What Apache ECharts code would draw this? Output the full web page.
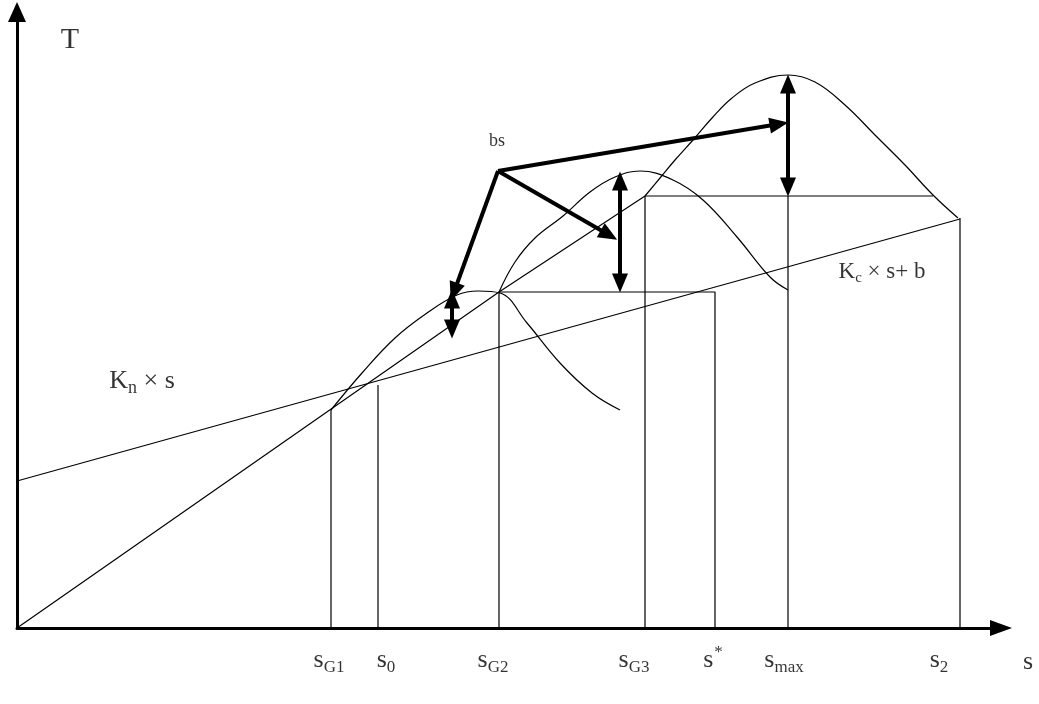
<!DOCTYPE html>
<html>
<head>
<meta charset="utf-8">
<script src="https://cdn.jsdelivr.net/npm/echarts@6/dist/echarts.min.js"></script>
<style>html,body{margin:0;padding:0;background:#fff}#c{width:1039px;height:704px}</style>
</head>
<body>
<div id="c"></div>
<script>
// Data coordinates: s along x, T along y (origin at the lower-left corner of the axes)
const originLine = [[0, 0], [482, 336], [628, 432]];
const knLine = [[0, 147], [943, 409]];
const sG1Line = [[314, 0], [314, 218]];
const s0Line = [[361, 0], [361, 243]];
const sG2Rect = [[482, 0], [482, 336], [698, 336], [698, 0]];
const sG3Rect = [[628, 0], [628, 432], [916, 432]];
const smaxLine = [[771, 0], [771, 432]];
const s2Line = [[943, 0], [943, 410]];
const curve1 = [[314, 218], [345, 255], [378, 290], [410, 315], [440, 333], [461, 337], [483, 335], [510, 305], [543, 265], [575, 235], [603, 218]];
const curve2 = [[482, 336], [498, 366], [518, 390], [546, 412], [573, 436], [598, 451], [623, 457], [656, 448], [686, 428], [720, 391], [753, 351], [771, 338]];
const curve3 = [[628, 432], [643, 450], [658, 468], [676, 488], [695, 510], [715, 530], [738, 545], [771, 553], [798, 546], [828, 523], [858, 493], [888, 463], [916, 433], [941, 410]];
const bsPoint = [481, 457];
const bsTargets = [[437, 336], [592, 393], [762, 504]];
const doubleArrows = [[[435, 299], [435, 329]], [[603, 345], [603, 447]], [[771, 441], [771, 544]]];
const tickNames = ['{s|s}{sub|G1}', '{s|s}{sub|0}', '{s|s}{sub|G2}', '{s|s}{sub|G3}', '{ss|s}{sup|*}', '{s|s}{sub|max}', '{s|s}{sub|2}'];
const tickPos = [312, 369, 476, 617, 696, 767, 922];
const tickY = [-32, -32, -32, -32, -29, -32, -32];
const textItems = [
  {value: [53, 588], text: '{T|T}'},
  {value: [125, 247], text: '{K|K}{n|n}{t| × s}'},
  {value: [865, 356], text: '{K2|K}{c|c}{t2| × s+ b}'},
  {value: [480, 487], text: '{bs|bs}'},
  {value: [1011, -34], text: '{s|s}'}
];

const serif = '"Liberation Serif", "DejaVu Serif", serif';
const thin = {color: '#000', width: 1.2};
function lineSeries(data, smooth) {
  return {type: 'line', data: data, symbol: 'none', smooth: smooth || false,
    lineStyle: thin, silent: true, animation: false, clip: false, z: 2};
}
const rich = {
  s: {fontFamily: serif, fontSize: 26, lineHeight: 26, verticalAlign: 'top', color: '#000'},
  ss: {fontFamily: serif, fontSize: 26, lineHeight: 26, verticalAlign: 'top', color: '#000', padding: [3, 0, 0, 0]},
  sub: {fontFamily: serif, fontSize: 17, lineHeight: 17, verticalAlign: 'top', color: '#000', padding: [12, 0, 0, 0]},
  sup: {fontFamily: serif, fontSize: 17, lineHeight: 17, verticalAlign: 'top', color: '#000', padding: [0, 0, 0, 1]},
  T: {fontFamily: serif, fontSize: 30, lineHeight: 30, color: '#000'},
  K: {fontFamily: serif, fontSize: 26, lineHeight: 26, verticalAlign: 'top', color: '#000'},
  n: {fontFamily: serif, fontSize: 18, lineHeight: 18, verticalAlign: 'top', color: '#000', padding: [11, 0, 0, 0]},
  t: {fontFamily: serif, fontSize: 26, lineHeight: 26, verticalAlign: 'top', color: '#000'},
  K2: {fontFamily: serif, fontSize: 23, lineHeight: 23, verticalAlign: 'top', color: '#000'},
  c: {fontFamily: serif, fontSize: 15, lineHeight: 15, verticalAlign: 'top', color: '#000', padding: [10, 0, 0, 0]},
  t2: {fontFamily: serif, fontSize: 23, lineHeight: 23, verticalAlign: 'top', color: '#000'},
  bs: {fontFamily: serif, fontSize: 18, lineHeight: 18, color: '#000'}
};

const arrowLines = bsTargets.map(t => [{coord: bsPoint, symbol: 'none'}, {coord: t, symbol: 'triangle'}]);
const dblLines = doubleArrows.map(d => [{coord: d[0], symbol: 'triangle'}, {coord: d[1], symbol: 'triangle'}]);

const chart = echarts.init(document.getElementById('c'), null, {renderer: 'canvas'});
chart.setOption({
  backgroundColor: '#fff',
  animation: false,
  grid: {left: 17, right: 38, top: 12, bottom: 76},
  xAxis: {type: 'value', min: 0, max: 984, splitLine: {show: false}, axisTick: {show: false}, axisLabel: {show: false},
    axisLine: {show: true, onZero: false, symbol: ['none', 'triangle'], symbolSize: [16, 22], lineStyle: {color: '#000', width: 3}}},
  yAxis: {type: 'value', min: 0, max: 616, splitLine: {show: false}, axisTick: {show: false}, axisLabel: {show: false},
    axisLine: {show: true, onZero: false, symbol: ['none', 'triangle'], symbolSize: [18, 20], lineStyle: {color: '#000', width: 3}}},
  series: [
    lineSeries(originLine), lineSeries(knLine), lineSeries(sG1Line), lineSeries(s0Line),
    lineSeries(sG2Rect), lineSeries(sG3Rect), lineSeries(smaxLine), lineSeries(s2Line),
    lineSeries(curve1, 0.4), lineSeries(curve2, 0.4), lineSeries(curve3, 0.4),
    {type: 'line', data: [], silent: true, animation: false,
      markLine: {silent: true, animation: false, symbolSize: [16, 19], label: {show: false},
        lineStyle: {color: '#000', width: 4, type: 'solid'}, emphasis: {disabled: true},
        data: arrowLines.concat(dblLines)}},
    {type: 'scatter', clip: false, silent: true, symbolSize: 1, itemStyle: {color: 'transparent'},
      data: tickPos.map((x, i) => ({value: [x, tickY[i]], text: tickNames[i]})).concat(textItems),
      label: {show: true, position: 'inside', formatter: p => p.data.text, rich: rich}}
  ]
});
</script>
</body>
</html>
